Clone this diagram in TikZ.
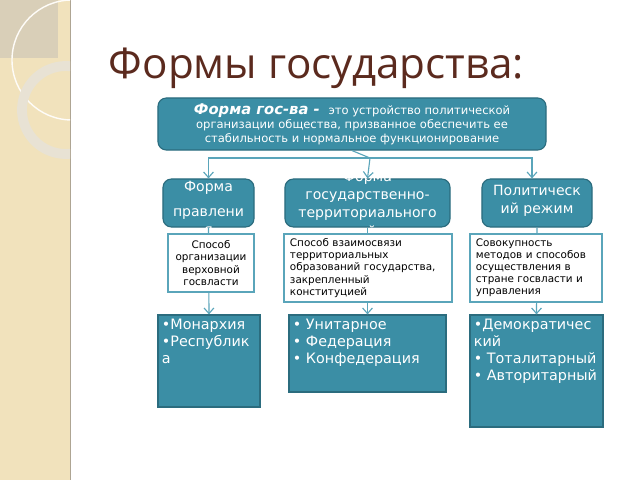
\documentclass[tikz,border=0pt]{standalone}
\usepackage{fontspec}
\setmainfont{DejaVu Sans}
\newfontfamily\titlefont{Open Sans}
\usetikzlibrary{arrows.meta}
\definecolor{stripbeige}{HTML}{F1E2BC}
\definecolor{cornergrey}{HTML}{D9CFB8}
\definecolor{boxteal}{HTML}{3B8EA5}
\definecolor{edgeteal}{HTML}{2B6C7E}
\definecolor{lineteal}{HTML}{5AA5BA}
\definecolor{titlebrown}{HTML}{5B2A1E}
\tikzset{
  headbox/.style={draw=edgeteal, fill=boxteal, rounded corners=6pt, line width=0.8pt, text=white, align=center},
  notebox/.style={draw=lineteal, fill=white, line width=1.4pt, inner sep=3pt, font=\fontsize{7.4}{8.6}\selectfont},
  listbox/.style={draw=edgeteal, fill=boxteal, line width=0.8pt},
  listtext/.style={text=white, align=left, inner sep=3pt, font=\fontsize{10.2}{12}\selectfont},
  link/.style={draw=lineteal, line width=0.8pt, -{Straight Barb[length=4pt,width=7pt]}}
}
\begin{document}
\begin{tikzpicture}[x=0.025cm, y=-0.025cm]
    \useasboundingbox (0,0) rectangle (640,480);
    % background strip
    \fill[stripbeige] (0,0) rectangle (70,480);
    \draw[cornergrey!80!black, line width=0.6pt] (70,0) -- (70,480);
    \begin{scope}
        \clip (0,0) rectangle (70,480);
        \fill[cornergrey] (0,0) rectangle (58,58);
        \draw[white!90!stripbeige, line width=1pt] (72,60) circle (60);
        \draw[cornergrey!60!white, line width=7pt] (66,110) circle (44);
    \end{scope}
    \node[anchor=base west, text=titlebrown, font=\titlefont\fontsize{30}{33}\selectfont] (title) at (104,78) {Формы государства:};
    % head
    \node[headbox, minimum width=9.7cm, minimum height=1.3cm, font=\fontsize{8.2}{10}\selectfont] (forma) at (352,124)
        {{\fontsize{10.5}{10}\selectfont\bfseries\itshape Форма гос-ва - }\ это устройство политической\\организации общества, призванное обеспечить ее\\стабильность и нормальное функционирование};
    \node[headbox, minimum width=2.275cm, minimum height=1.2cm] (pravl) at (208.5,203) {};
    \node[headbox, minimum width=4.125cm, minimum height=1.2cm] (ustr) at (367.5,203) {};
    \node[headbox, minimum width=2.75cm, minimum height=1.2cm] (rezh) at (537,203) {};
    \node[text=white, align=center, font=\fontsize{10}{13}\selectfont] (pravltext) at (208.5,208) {Форма\\[5pt]правлени\\я};
    \node[text=white, align=center, font=\fontsize{10}{13}\selectfont] (ustrtext) at (367.5,205) {Форма\\государственно-\\территориального\\устройства};
    \node[text=white, align=center, font=\fontsize{10}{13}\selectfont] (rezhtext) at (537,201) {Политическ\\ий режим};
    % connectors
    \draw[lineteal, line width=0.8pt] (forma.south) -- (370,158) coordinate (fork);
    \draw[link] (fork) -| (pravl.north);
    \draw[link] (fork) -- (ustr.north);
    \draw[link] (fork) -| (rezh.north -| 532,0);
    % lists
    \node[listbox, minimum width=2.55cm, minimum height=2.3cm] (monarch) at (209,361) {};
    \node[listbox, minimum width=3.925cm, minimum height=1.925cm] (unitar) at (367.5,353.5) {};
    \node[listbox, minimum width=3.325cm, minimum height=2.8cm] (democr) at (536.5,371) {};
    \draw[link] (pravl.south) -- (monarch.north);
    \draw[link] (ustr.south) -- (unitar.north);
    \draw[link] (rezh.south) -- (democr.north);
    % notes
    \node[notebox, minimum width=2.15cm, minimum height=1.45cm, align=center] (notel) at (211,263)
        {Способ\\организации\\верховной\\госвласти};
    \node[notebox, minimum width=4.2cm, minimum height=1.7cm, text width=3.9cm, align=left] (notem) at (368,268)
        {Способ взаимосвязи\\территориальных\\образований государства,\\закрепленный\\конституцией};
    \node[notebox, minimum width=3.3cm, minimum height=1.7cm, text width=3.0cm, align=left] (noter) at (536,268)
        {Совокупность\\методов и способов\\осуществления в\\стране госвласти и\\управления};
    \node[listtext, anchor=north west] at (monarch.north west) {•Монархия\\•Республик\\а};
    \node[listtext, anchor=north west] at (unitar.north west) {• Унитарное\\• Федерация\\• Конфедерация};
    \node[listtext, anchor=north west] at (democr.north west) {•Демократичес\\кий\\• Тоталитарный\\• Авторитарный};
\end{tikzpicture}
\end{document}
